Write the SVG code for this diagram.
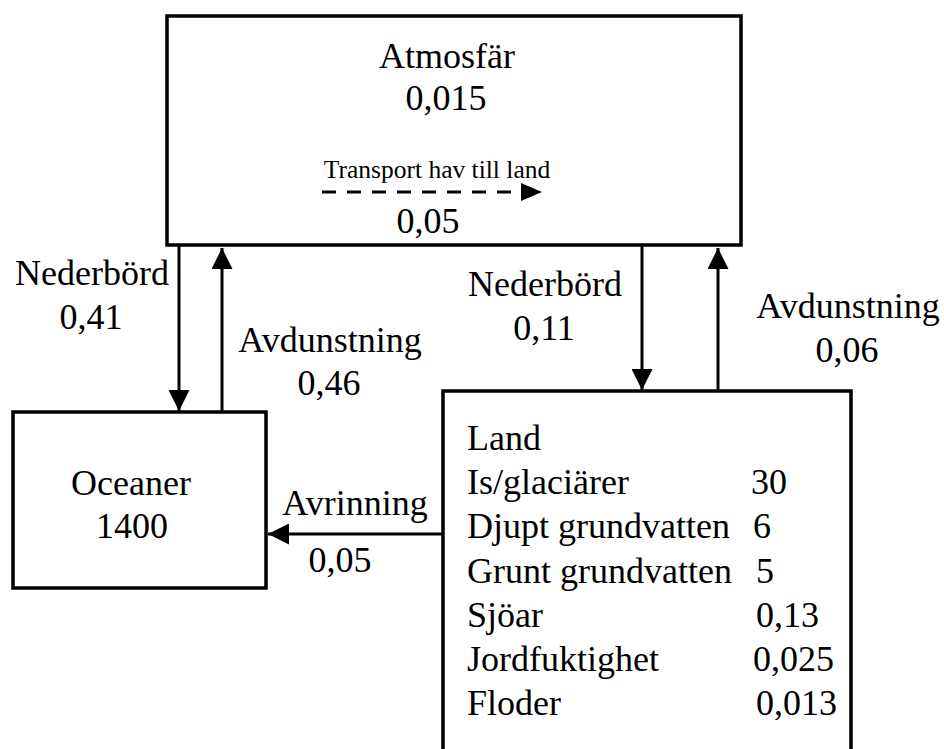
<svg xmlns="http://www.w3.org/2000/svg" width="944" height="749" viewBox="0 0 944 749">
<style>
.box{fill:#fff;stroke:#000;stroke-width:3.5}
text{font-family:"Liberation Serif","Times New Roman",serif;font-size:36px;fill:#000}
.c{text-anchor:middle}
.s{font-size:25.5px}
.ln{stroke:#000;stroke-width:3;fill:none}
.dash{stroke-dasharray:14 11}
</style>
<defs>
<marker id="ah" markerWidth="7" markerHeight="7" refX="7" refY="3.5" orient="auto" markerUnits="strokeWidth">
<path d="M0,0 L7,3.5 L0,7 Z" fill="#000"/>
</marker>
<marker id="ahs" markerWidth="7" markerHeight="6" refX="7" refY="3" orient="auto" markerUnits="strokeWidth">
<path d="M0,0 L7,3 L0,6 Z" fill="#000"/>
</marker>
</defs>
<g id="atmosfar">
<rect class="box" x="167" y="16" width="574" height="229"/>
<text class="c" x="447" y="68">Atmosfär</text>
<text class="c" x="446" y="110">0,015</text>
<text class="c s" x="437" y="178">Transport hav till land</text>
<text class="c" x="428" y="233">0,05</text>
</g>
<g id="oceaner">
<rect class="box" x="13" y="412" width="253" height="176"/>
<text class="c" x="131" y="495">Oceaner</text>
<text class="c" x="132" y="538">1400</text>
</g>
<g id="land">
<rect class="box" x="443" y="391" width="408" height="380"/>
<text x="467" y="450">Land</text>
<text x="467" y="494">Is/glaciärer</text>
<text x="751" y="494">30</text>
<text x="467" y="538">Djupt grundvatten</text>
<text x="753" y="538">6</text>
<text x="467" y="583">Grunt grundvatten</text>
<text x="756" y="583">5</text>
<text x="467" y="627">Sjöar</text>
<text x="756" y="627">0,13</text>
<text x="467" y="671">Jordfuktighet</text>
<text x="753" y="671">0,025</text>
<text x="467" y="715">Floder</text>
<text x="756" y="715">0,013</text>
</g>
<g id="connectors">
<line class="ln dash" x1="322" y1="192" x2="542" y2="192" marker-end="url(#ahs)"/>
<line class="ln" x1="179" y1="246" x2="179" y2="411" marker-end="url(#ah)"/>
<line class="ln" x1="222" y1="411" x2="222" y2="248" marker-end="url(#ah)"/>
<line class="ln" x1="642" y1="246" x2="642" y2="390" marker-end="url(#ah)"/>
<line class="ln" x1="718" y1="390" x2="718" y2="248" marker-end="url(#ah)"/>
<line class="ln" x1="442" y1="534" x2="268" y2="534" marker-end="url(#ah)"/>
<text class="c" x="92" y="285">Nederbörd</text>
<text class="c" x="91" y="329">0,41</text>
<text class="c" x="330" y="352">Avdunstning</text>
<text class="c" x="329" y="395">0,46</text>
<text class="c" x="545" y="296">Nederbörd</text>
<text class="c" x="544" y="340">0,11</text>
<text class="c" x="848" y="318">Avdunstning</text>
<text class="c" x="847" y="362">0,06</text>
<text class="c" x="355" y="515">Avrinning</text>
<text class="c" x="340" y="572">0,05</text>
</g>
</svg>
